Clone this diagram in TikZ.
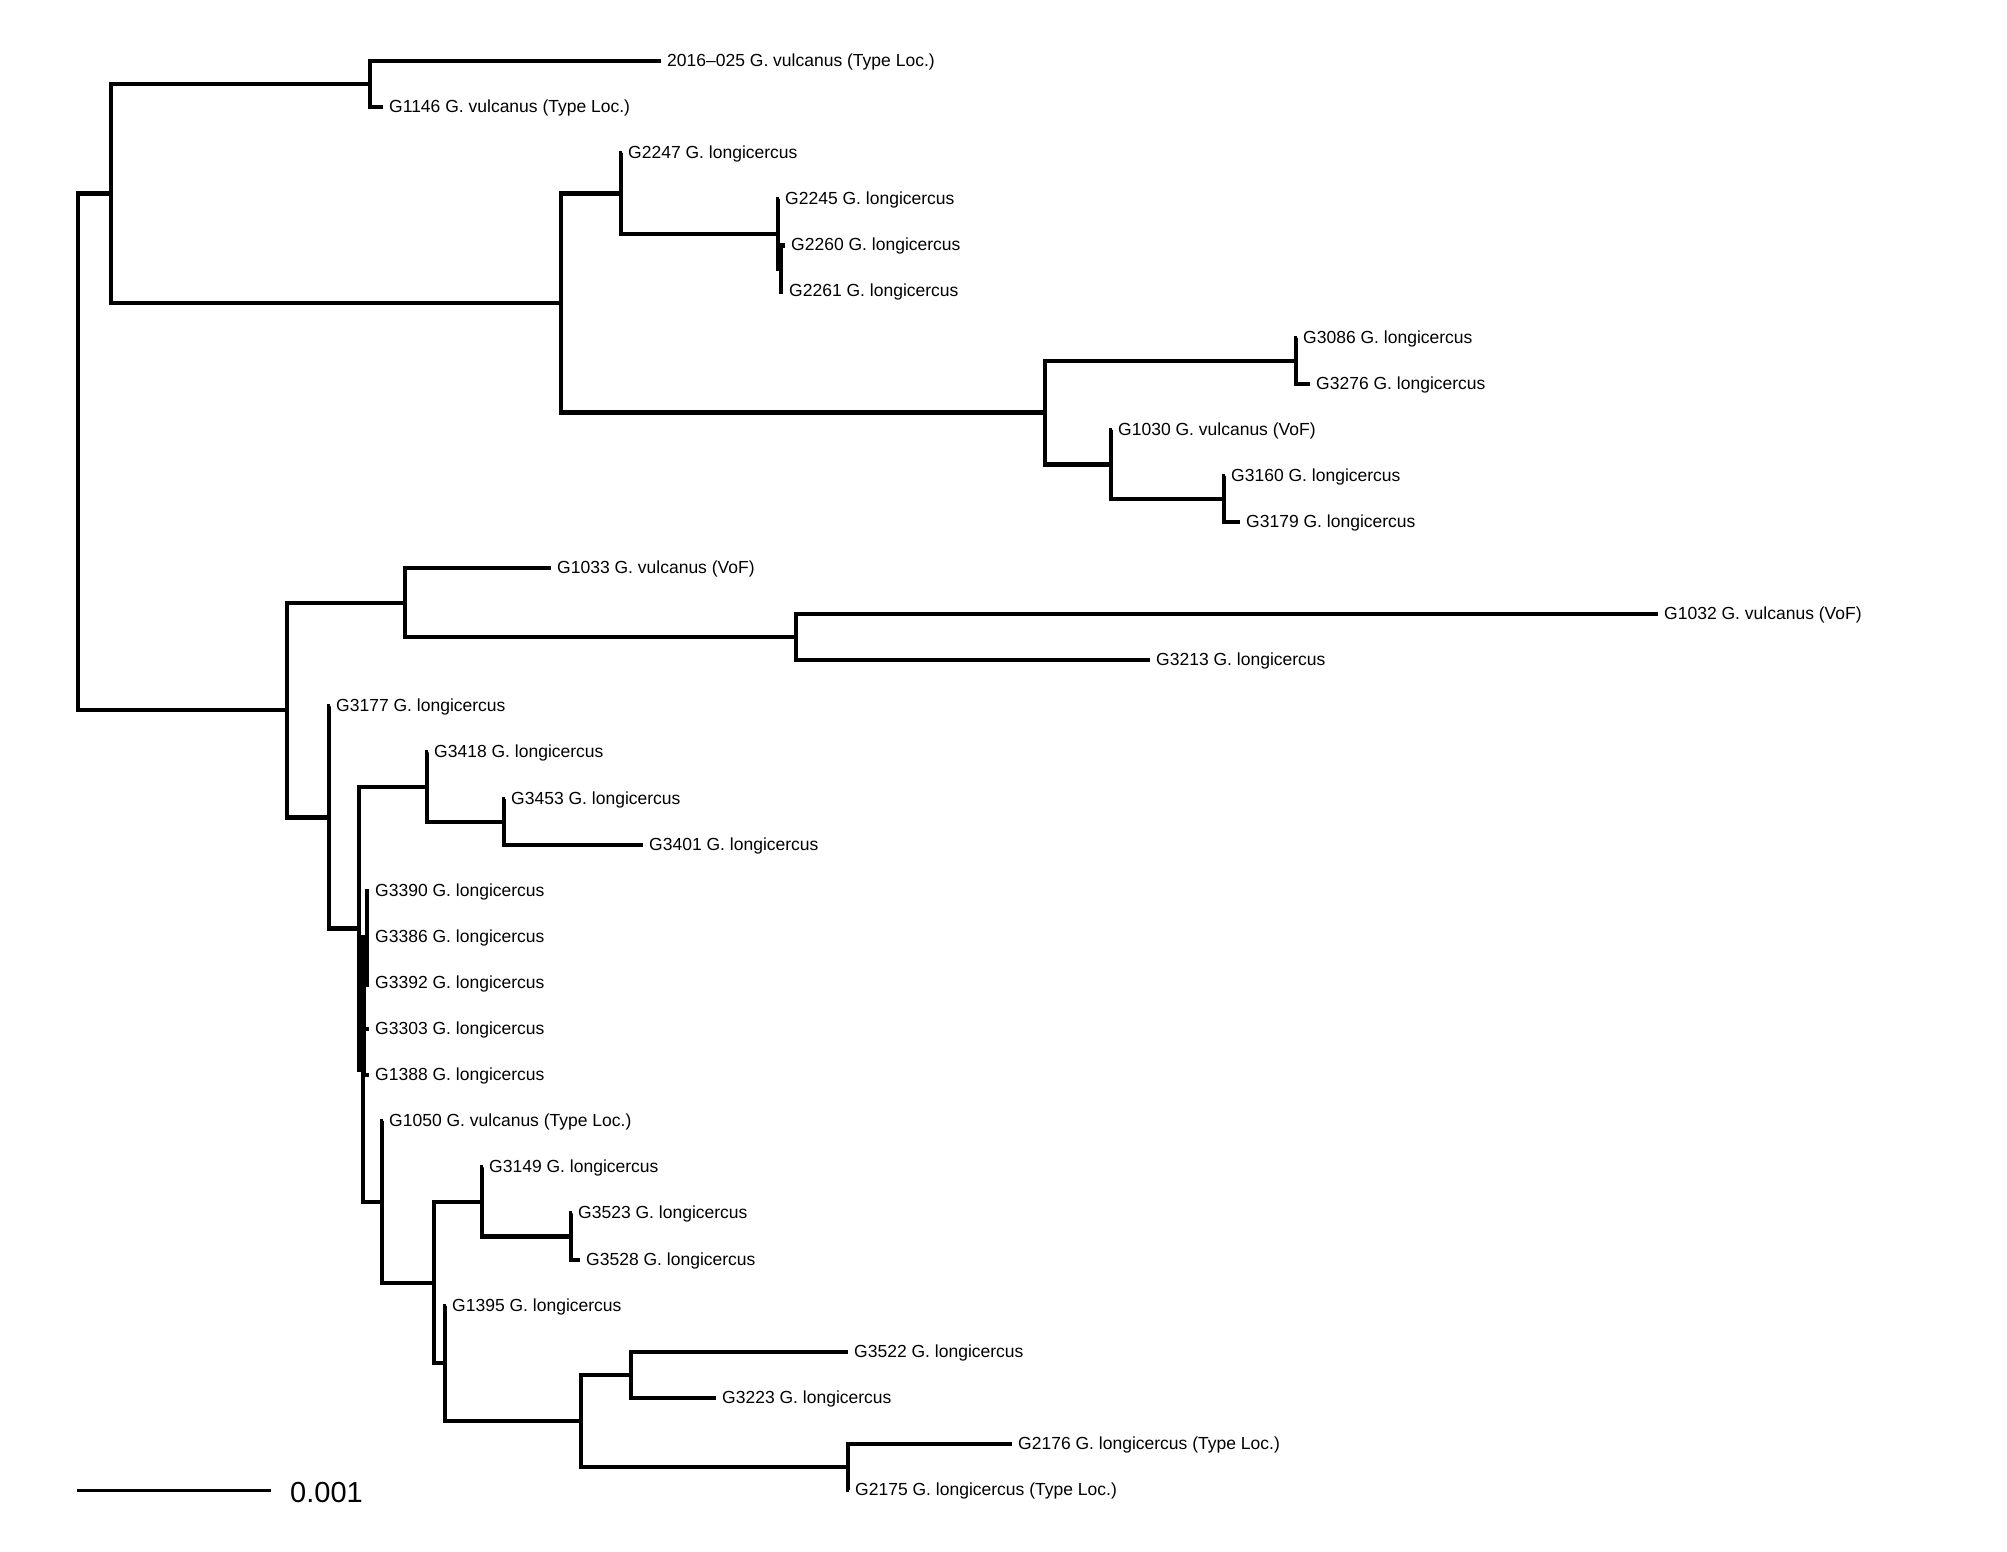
\documentclass[tikz,border=0pt]{standalone}
\usepackage{fontspec}
\setmainfont{Liberation Sans}
\begin{document}
\begin{tikzpicture}[x=1pt,y=-1pt,
  br/.style={line width=4.2pt, line join=miter, line cap=butt},
  lab/.style={anchor=base west, font=\fontsize{17.5}{20}\selectfont, inner sep=0pt, xshift=6pt, yshift=-5.4pt},
  scalelab/.style={anchor=base west, font=\fontsize{29}{32}\selectfont, inner sep=0pt}]
\useasboundingbox (0,0) rectangle (2007,1551);
% internal nodes
\coordinate (root) at (78,451.8);
\coordinate (A) at (111,193.5);
\coordinate (N01) at (370,84.05);
\coordinate (C) at (561,303);
\coordinate (D) at (621,193.55);
\coordinate (D2) at (778,233.9);
\coordinate (D3) at (781,268.45);
\coordinate (E) at (1045,412.5);
\coordinate (F) at (1296,360.65);
\coordinate (G) at (1111,464.4);
\coordinate (H) at (1224,498.95);
\coordinate (B) at (287,710.1);
\coordinate (I) at (405,602.7);
\coordinate (J) at (796,637.25);
\coordinate (K) at (329,817.45);
\coordinate (L) at (359,928.5);
\coordinate (M) at (427,787.1);
\coordinate (N) at (504,821.65);
\coordinate (O) at (363,1069.95);
\coordinate (C1) at (367,937.9);
\coordinate (C2) at (363.5,985);
\coordinate (P) at (382,1202);
\coordinate (Q) at (434,1282.65);
\coordinate (R) at (482,1202);
\coordinate (T) at (571,1236.55);
\coordinate (S) at (445,1363.3);
\coordinate (U) at (581,1420.95);
\coordinate (V) at (631,1374.85);
\coordinate (W) at (848,1467.05);
% tips
\coordinate (t0) at (661,61);      \node[lab] (n0) at (t0) {2016–025 G. vulcanus (Type Loc.)};
\coordinate (t1) at (383,107.1);   \node[lab] (n1) at (t1) {G1146 G. vulcanus (Type Loc.)};
\coordinate (t2) at (622,153.2);   \node[lab] (n2) at (t2) {G2247 G. longicercus};
\coordinate (t3) at (779,199.3);   \node[lab] (n3) at (t3) {G2245 G. longicercus};
\coordinate (t4) at (785,245.4);   \node[lab] (n4) at (t4) {G2260 G. longicercus};
\coordinate (t5) at (783,291.5);   \node[lab] (n5) at (t5) {G2261 G. longicercus};
\coordinate (t6) at (1297,337.6);  \node[lab] (n6) at (t6) {G3086 G. longicercus};
\coordinate (t7) at (1310,383.7);  \node[lab] (n7) at (t7) {G3276 G. longicercus};
\coordinate (t8) at (1112,429.8);  \node[lab] (n8) at (t8) {G1030 G. vulcanus (VoF)};
\coordinate (t9) at (1225,475.9);  \node[lab] (n9) at (t9) {G3160 G. longicercus};
\coordinate (t10) at (1240,522);   \node[lab] (n10) at (t10) {G3179 G. longicercus};
\coordinate (t11) at (551,568.1);  \node[lab] (n11) at (t11) {G1033 G. vulcanus (VoF)};
\coordinate (t12) at (1658,614.2); \node[lab] (n12) at (t12) {G1032 G. vulcanus (VoF)};
\coordinate (t13) at (1150,660.3); \node[lab] (n13) at (t13) {G3213 G. longicercus};
\coordinate (t14) at (330,706.4);  \node[lab] (n14) at (t14) {G3177 G. longicercus};
\coordinate (t15) at (428,752.5);  \node[lab] (n15) at (t15) {G3418 G. longicercus};
\coordinate (t16) at (505,798.6);  \node[lab] (n16) at (t16) {G3453 G. longicercus};
\coordinate (t17) at (643,844.7);  \node[lab] (n17) at (t17) {G3401 G. longicercus};
\coordinate (t18) at (369,890.8);  \node[lab] (n18) at (t18) {G3390 G. longicercus};
\coordinate (t19) at (369,936.9);  \node[lab] (n19) at (t19) {G3386 G. longicercus};
\coordinate (t20) at (369,983);    \node[lab] (n20) at (t20) {G3392 G. longicercus};
\coordinate (t21) at (369,1029.1); \node[lab] (n21) at (t21) {G3303 G. longicercus};
\coordinate (t22) at (369,1075.2); \node[lab] (n22) at (t22) {G1388 G. longicercus};
\coordinate (t23) at (383,1121.3); \node[lab] (n23) at (t23) {G1050 G. vulcanus (Type Loc.)};
\coordinate (t24) at (483,1167.4); \node[lab] (n24) at (t24) {G3149 G. longicercus};
\coordinate (t25) at (572,1213.5); \node[lab] (n25) at (t25) {G3523 G. longicercus};
\coordinate (t26) at (580,1259.6); \node[lab] (n26) at (t26) {G3528 G. longicercus};
\coordinate (t27) at (446,1305.7); \node[lab] (n27) at (t27) {G1395 G. longicercus};
\coordinate (t28) at (848,1351.8); \node[lab] (n28) at (t28) {G3522 G. longicercus};
\coordinate (t29) at (716,1397.9); \node[lab] (n29) at (t29) {G3223 G. longicercus};
\coordinate (t30) at (1012,1444);  \node[lab] (n30) at (t30) {G2176 G. longicercus (Type Loc.)};
\coordinate (t31) at (849,1490.1); \node[lab] (n31) at (t31) {G2175 G. longicercus (Type Loc.)};
% branches
\draw[br] (root) |- (A);  \draw[br] (root) |- (B);
\draw[br] (A) |- (N01);   \draw[br] (A) |- (C);
\draw[br] (N01) |- (t0);  \draw[br] (N01) |- (t1);
\draw[br] (C) |- (D);     \draw[br] (C) |- (E);
\draw[br] (D) |- (t2);    \draw[br] (D) |- (D2);
\draw[br] (D2) |- (t3);   \draw[br] (D2) |- (D3);
\draw[br] (D3) |- (t4);   \draw[br] (D3) |- (t5);
\draw[br] (E) |- (F);     \draw[br] (E) |- (G);
\draw[br] (F) |- (t6);    \draw[br] (F) |- (t7);
\draw[br] (G) |- (t8);    \draw[br] (G) |- (H);
\draw[br] (H) |- (t9);    \draw[br] (H) |- (t10);
\draw[br] (B) |- (I);     \draw[br] (B) |- (K);
\draw[br] (I) |- (t11);   \draw[br] (I) |- (J);
\draw[br] (J) |- (t12);   \draw[br] (J) |- (t13);
\draw[br] (K) |- (t14);   \draw[br] (K) |- (L);
\draw[br] (L) |- (M);     \draw[br] (L) |- (O);
\draw[br] (M) |- (t15);   \draw[br] (M) |- (N);
\draw[br] (N) |- (t16);   \draw[br] (N) |- (t17);
\draw[br] (O) |- (C1);    \draw[br] (O) |- (P);
\draw[br] (C1) |- (t18);  \draw[br] (C1) |- (C2);
\draw[br] (C2) |- (t19);  \draw[br] (C2) |- (t20);
\draw[br] (C2) |- (t21);  \draw[br] (C2) |- (t22);
\draw[br] (P) |- (t23);   \draw[br] (P) |- (Q);
\draw[br] (Q) |- (R);     \draw[br] (Q) |- (S);
\draw[br] (R) |- (t24);   \draw[br] (R) |- (T);
\draw[br] (T) |- (t25);   \draw[br] (T) |- (t26);
\draw[br] (S) |- (t27);   \draw[br] (S) |- (U);
\draw[br] (U) |- (V);     \draw[br] (U) |- (W);
\draw[br] (V) |- (t28);   \draw[br] (V) |- (t29);
\draw[br] (W) |- (t30);   \draw[br] (W) |- (t31);
% scale bar
\coordinate (s1) at (77,1490);
\coordinate (s2) at (271,1490);
\draw[line width=3pt] (s1) -- (s2);
\node[scalelab] (sl) at (290,1502) {0.001};
\end{tikzpicture}
\end{document}
